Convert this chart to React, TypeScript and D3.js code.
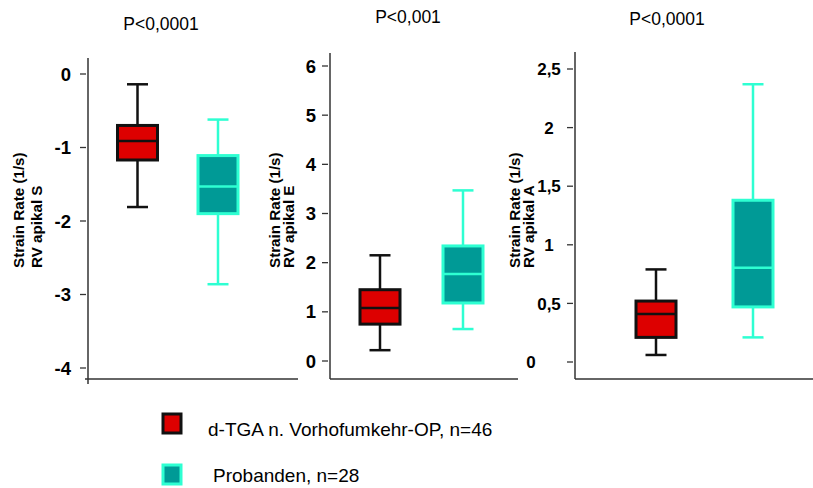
import React from "react";
import * as d3 from "d3";

// Groups compared in every panel
const groupNames = ["d-TGA n. Vorhofumkehr-OP, n=46", "Probanden, n=28"];
const groupKeys = ["tga", "prob"];

// Panel headings (p-values) and y-axis titles
const pValues = ["P<0,0001", "P<0,001", "P<0,0001"];
const axisTitleLine1 = ["Strain Rate (1/s)", "Strain Rate (1/s)", "Strain Rate (1/s)"];
const axisTitleLine2 = ["RV apikal S", "RV apikal E", "RV apikal A"];

// Tick values per panel
const ticksS = [0, -1, -2, -3, -4];
const ticksE = [0, 1, 2, 3, 4, 5, 6];
const ticksA = [0, 0.5, 1, 1.5, 2, 2.5];

// Box statistics: [lower whisker, Q1, median, Q3, upper whisker]
const statsS_tga = [-1.81, -1.17, -0.91, -0.7, -0.14];
const statsS_prob = [-2.86, -1.9, -1.53, -1.11, -0.62];
const statsE_tga = [0.22, 0.75, 1.08, 1.45, 2.15];
const statsE_prob = [0.65, 1.18, 1.77, 2.34, 3.47];
const statsA_tga = [0.06, 0.21, 0.41, 0.52, 0.79];
const statsA_prob = [0.21, 0.47, 0.805, 1.38, 2.37];

const FONT = "'Liberation Sans', Arial, Helvetica, sans-serif";
const fills = { tga: "#dd0000", prob: "#009a96" };
const strokes = { tga: "#111111", prob: "#2effd2" };

type Panel = {
  title: string;
  titleX: number;
  titleY: number;
  t1: string;
  t2: string;
  t1X: number;
  t2X: number;
  axisX: number;
  axisTop: number;
  axisBottom: number;
  xAxisFrom: number;
  xAxisTo: number;
  domain: [number, number];
  range: [number, number];
  ticks: number[];
  tickFont: number;
  labelX: number;
  labelAnchor: "end" | "middle";
  zeroDx: number;
  centers: [number, number];
  stats: number[][];
};

const panels: Panel[] = [
  {
    title: pValues[0], titleX: 161, titleY: 30,
    t1: axisTitleLine1[0], t2: axisTitleLine2[0], t1X: 24, t2X: 42,
    axisX: 88, axisTop: 58, axisBottom: 384, xAxisFrom: 85, xAxisTo: 298,
    domain: [-4, 0], range: [368, 74], ticks: ticksS, tickFont: 18.5,
    labelX: 71, labelAnchor: "end", zeroDx: 0,
    centers: [137.5, 218], stats: [statsS_tga, statsS_prob],
  },
  {
    title: pValues[1], titleX: 408, titleY: 23,
    t1: axisTitleLine1[1], t2: axisTitleLine2[1], t1X: 280, t2X: 294,
    axisX: 330, axisTop: 53, axisBottom: 379, xAxisFrom: 330, xAxisTo: 518,
    domain: [0, 6], range: [361, 66], ticks: ticksE, tickFont: 18.5,
    labelX: 316, labelAnchor: "end", zeroDx: 0,
    centers: [380, 463], stats: [statsE_tga, statsE_prob],
  },
  {
    title: pValues[2], titleX: 667, titleY: 25,
    t1: axisTitleLine1[2], t2: axisTitleLine2[2], t1X: 520, t2X: 534,
    axisX: 575, axisTop: 52, axisBottom: 379, xAxisFrom: 575, xAxisTo: 813,
    domain: [0, 2.5], range: [362, 69], ticks: ticksA, tickFont: 17,
    labelX: 549, labelAnchor: "middle", zeroDx: -18,
    centers: [656, 753], stats: [statsA_tga, statsA_prob],
  },
];

const fmt = (v: number) => d3.format("~g")(v).replace(".", ",").replace("−", "-");

function BoxPanel({ p }: { p: Panel }) {
  const y = d3.scaleLinear().domain(p.domain).range(p.range);
  const x = d3.scalePoint<string>().domain(groupKeys).range(p.centers);
  const boxW = 40;
  const capW = 21;
  const titleBottom = 268;
  return (
    <g>
      <text x={p.titleX} y={p.titleY} textAnchor="middle" fontSize={17.5} fontFamily={FONT} fill="#000">
        {p.title}
      </text>
      <text transform={`translate(${p.t1X},${titleBottom}) rotate(-90)`} fontSize={15.2} fontWeight="bold" fontFamily={FONT} fill="#000">
        {p.t1}
      </text>
      <text transform={`translate(${p.t2X},${titleBottom}) rotate(-90)`} fontSize={15.2} fontWeight="bold" fontFamily={FONT} fill="#000">
        {p.t2}
      </text>
      {/* axes */}
      <line x1={p.axisX} x2={p.axisX} y1={p.axisTop} y2={p.axisBottom} stroke="#333" strokeWidth={1.5} />
      <line x1={p.xAxisFrom} x2={p.xAxisTo} y1={379} y2={379} stroke="#333" strokeWidth={1.5} />
      {p.ticks.map((t) => (
        <g key={t}>
          <line x1={p.axisX - 8} x2={p.axisX - 2} y1={y(t)} y2={y(t)} stroke="#333" strokeWidth={1.3} />
          <text
            x={p.labelX + (t === 0 ? p.zeroDx : 0)}
            y={y(t)}
            dy="0.36em"
            textAnchor={p.labelAnchor}
            fontSize={p.tickFont}
            fontWeight="bold"
            fontFamily={FONT}
            fill="#000"
          >
            {fmt(t)}
          </text>
        </g>
      ))}
      {/* boxes */}
      {groupKeys.map((k, i) => {
        const [lo, q1, med, q3, hi] = p.stats[i];
        const cx = x(k) as number;
        const s = strokes[k as "tga" | "prob"];
        const f = fills[k as "tga" | "prob"];
        return (
          <g key={k}>
            <line x1={cx} x2={cx} y1={y(hi)} y2={y(q3)} stroke={s} strokeWidth={2.5} />
            <line x1={cx} x2={cx} y1={y(q1)} y2={y(lo)} stroke={s} strokeWidth={2.5} />
            <line x1={cx - capW / 2} x2={cx + capW / 2} y1={y(hi)} y2={y(hi)} stroke={s} strokeWidth={2.5} />
            <line x1={cx - capW / 2} x2={cx + capW / 2} y1={y(lo)} y2={y(lo)} stroke={s} strokeWidth={2.5} />
            <rect x={cx - boxW / 2} y={y(q3)} width={boxW} height={y(q1) - y(q3)} fill={f} stroke={s} strokeWidth={3} />
            <line x1={cx - boxW / 2} x2={cx + boxW / 2} y1={y(med)} y2={y(med)} stroke={s} strokeWidth={2.5} />
          </g>
        );
      })}
    </g>
  );
}

export default function App() {
  const legendY = [424, 475];
  const legendTextY = [436, 482];
  const legendTextX = [208, 213];
  return (
    <svg
      width={813}
      height={488}
      style={{ position: "absolute", left: 0, top: 0, background: "#fff" }}
      xmlns="http://www.w3.org/2000/svg"
    >
      <rect width={813} height={488} fill="#fff" />
      {panels.map((p, i) => (
        <BoxPanel key={i} p={p} />
      ))}
      {groupKeys.map((k, i) => (
        <g key={k}>
          <rect
            x={163}
            y={legendY[i] - 10}
            width={18}
            height={19}
            fill={fills[k as "tga" | "prob"]}
            stroke={strokes[k as "tga" | "prob"]}
            strokeWidth={3}
          />
          <text x={legendTextX[i]} y={legendTextY[i]} fontSize={19} fontFamily={FONT} fill="#000">
            {groupNames[i]}
          </text>
        </g>
      ))}
    </svg>
  );
}
